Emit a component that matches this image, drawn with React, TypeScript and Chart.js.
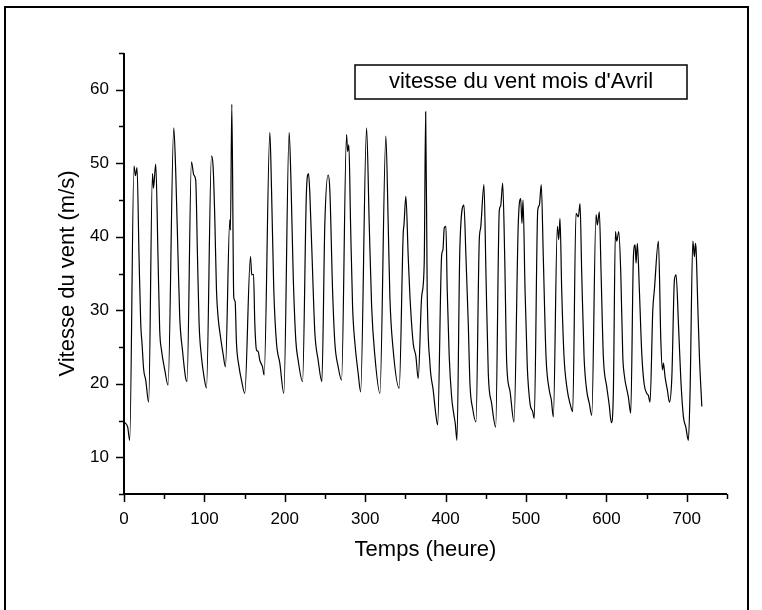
import React, { useEffect, useRef } from "react";
import { Chart, registerables } from "chart.js";

Chart.register(...registerables);

// Hours (x) and wind speed (y)
const hours: number[] = [
  0, 4.6, 7.1, 12.4, 14.2, 16.2, 18.7, 20.8, 22.4, 24.5, 27.0, 30.7,
  35.4, 36.6, 39.5, 42.3, 44.4, 46.6, 50.7, 54.8,
  61.9, 64.4, 67.2, 69.3, 72.7, 76.8, 78.4,
  83.9, 86.8, 89.2, 91.4, 93.4, 96.3, 99.6, 102.6,
  108.8, 110.8, 112.9, 115.0, 117.0, 120.0, 123.2, 126.2,
  131.6, 132.4, 134.1, 136.5, 138.2, 139.9, 143.1, 146.1, 150.2,
  157.3, 158.9, 161.1, 162.7, 164.8, 166.8, 168.9, 172.3, 174.3,
  181.4, 183.5, 186.3, 189.7, 193.8, 198.8,
  205.4, 207.9, 210.4, 213.7, 216.6, 222.1,
  227.0, 229.5, 231.1, 235.3, 237.4, 241.5, 246.1,
  249.8, 253.9, 256.0, 259.4, 262.3, 266.4, 270.6,
  276.8, 278.1, 279.7, 281.8, 284.3, 287.2, 291.3, 294.3,
  301.7, 305.0, 308.0, 312.1, 318.3,
  325.7, 328.6, 330.7, 334.8, 342.3,
  347.3, 348.2, 350.6, 353.5, 355.6, 359.7, 363.1, 365.9,
  370.2, 373.4, 375.2, 377.1, 380.5, 384.6, 388.0, 390.1,
  395.1, 396.7, 398.3, 400.4, 402.0, 404.5, 407.5, 410.4, 412.0, 414.1,
  417.8, 422.8, 425.3, 428.2, 430.3, 433.7, 437.8,
  441.9, 443.6, 447.7, 450.2, 453.1, 457.3, 462.3,
  466.8, 468.5, 471.0, 473.5, 476.0, 480.1, 485.1,
  490.4, 493.4, 495.0, 496.3, 498.8, 501.6, 505.0, 508.3, 510.3,
  514.6, 516.6, 519.0, 521.5, 524.9, 529.0, 531.5, 534.0,
  539.0, 540.7, 542.3, 544.4, 547.3, 551.4, 554.8, 558.1,
  562.2, 565.1, 567.2, 569.3, 572.2, 575.5, 578.8, 581.8,
  587.1, 588.7, 591.2, 593.4, 596.2, 600.4, 603.3, 606.2,
  608.7, 611.2, 612.9, 615.4, 617.9, 620.4, 622.0, 627.3, 630.3,
  633.6, 635.7, 636.9, 638.5, 641.0, 644.0, 646.9, 650.2, 652.2, 654.3,
  657.7, 659.7, 664.7, 667.7, 669.7, 670.9, 673.0, 675.9, 678.4,
  681.4, 684.6, 686.7, 689.6, 692.6, 695.8, 698.8, 702.0,
  704.1, 707.5, 709.5, 710.7, 711.6, 713.7, 715.7, 718.7,
];

const windSpeed: number[] = [
  14.8, 14.1, 12.3, 49.6, 48.3, 49.4, 37.3, 28.2, 25.5, 21.9, 20.5, 17.5,
  48.6, 46.6, 49.9, 37.3, 27.3, 24.6, 21.9, 19.8,
  54.8, 48.6, 37.3, 29.1, 24.6, 20.7, 20.3,
  50.2, 48.4, 47.7, 37.3, 28.2, 23.7, 20.9, 19.4,
  51.0, 49.6, 42.7, 32.8, 29.1, 26.4, 24.1, 22.3,
  42.3, 40.9, 58.0, 31.8, 31.2, 25.5, 22.3, 20.5, 18.7,
  37.3, 34.8, 34.9, 28.2, 24.6, 24.4, 23.2, 22.3, 21.2,
  54.2, 46.4, 32.8, 25.5, 22.8, 18.7,
  54.2, 46.6, 35.0, 25.9, 23.2, 20.3,
  46.4, 48.6, 46.0, 32.8, 26.9, 23.2, 20.3,
  41.8, 48.4, 46.4, 32.8, 25.5, 22.3, 20.5,
  53.9, 51.6, 52.5, 41.8, 30.5, 25.5, 21.4, 18.9,
  54.8, 41.8, 30.5, 23.7, 18.7,
  53.7, 41.8, 31.8, 24.6, 19.4,
  40.5, 41.6, 45.5, 37.3, 32.0, 25.5, 23.7, 20.7,
  31.8, 36.4, 57.0, 32.8, 22.8, 19.1, 15.7, 14.4,
  37.5, 38.2, 41.2, 41.4, 32.8, 23.7, 18.2, 15.7, 14.6, 12.3,
  38.7, 44.3, 37.3, 28.2, 20.0, 16.6, 14.8,
  39.6, 41.2, 47.1, 35.0, 21.4, 17.3, 14.1,
  43.6, 44.2, 47.3, 37.3, 22.8, 19.0, 14.8,
  41.8, 45.2, 41.8, 45.0, 32.8, 22.3, 17.3, 16.2, 15.3,
  43.6, 44.3, 47.1, 37.3, 23.7, 19.1, 17.8, 15.5,
  41.4, 39.6, 42.5, 32.8, 23.7, 19.1, 17.3, 16.2,
  43.2, 42.7, 44.5, 35.0, 23.7, 19.1, 17.3, 15.7,
  43.0, 41.6, 43.4, 35.0, 23.7, 19.6, 17.3, 14.7,
  19.1, 40.7, 39.4, 40.7, 35.0, 23.7, 21.4, 18.2, 16.0,
  37.3, 38.9, 36.4, 39.1, 32.8, 24.1, 20.0, 18.7, 18.4, 17.5,
  30.0, 32.8, 39.4, 25.9, 21.9, 22.8, 20.9, 19.1, 17.5,
  20.9, 34.1, 34.8, 28.2, 20.5, 15.5, 14.1, 12.3,
  19.1, 39.4, 37.3, 39.1, 38.2, 30.5, 23.7, 16.9,
];

const xTickLabels: number[] = [0, 100, 200, 300, 400, 500, 600, 700];
const yTickLabels: number[] = [10, 20, 30, 40, 50, 60];
const seriesLabel = "vitesse du vent mois d'Avril";
const xTitle = "Temps (heure)";
const yTitle = "Vitesse du vent (m/s)";

const FONT = "'Liberation Sans', Arial, Helvetica, sans-serif";

const decorPlugin = {
  id: "decor",
  afterDraw(chart: any) {
    const { ctx, chartArea, scales } = chart;
    const xs = scales.x;
    const ys = scales.y;
    const { left, right, top, bottom } = chartArea;
    ctx.save();
    ctx.strokeStyle = "#000";
    ctx.fillStyle = "#000";
    // outer frame (bottom edge not visible)
    ctx.lineWidth = 2;
    ctx.beginPath();
    ctx.moveTo(5, 615);
    ctx.lineTo(5, 7);
    ctx.lineTo(748, 7);
    ctx.lineTo(748, 615);
    ctx.stroke();
    // axes lines
    ctx.lineWidth = 2;
    ctx.beginPath();
    ctx.moveTo(left, top);
    ctx.lineTo(left, bottom);
    ctx.lineTo(right, bottom);
    ctx.stroke();
    // ticks
    ctx.lineWidth = 1.5;
    ctx.beginPath();
    xs.ticks.forEach((t: any) => {
      const px = Math.round(xs.getPixelForValue(t.value)) + 0.5;
      const len = xTickLabels.includes(t.value) ? 8 : 5;
      ctx.moveTo(px, bottom);
      ctx.lineTo(px, bottom + len);
    });
    ys.ticks.forEach((t: any) => {
      const py = Math.round(ys.getPixelForValue(t.value)) + 0.5;
      const len = yTickLabels.includes(t.value) ? 8 : 5;
      ctx.moveTo(left, py);
      ctx.lineTo(left - len, py);
    });
    ctx.stroke();
    // legend box
    ctx.lineWidth = 1.5;
    ctx.strokeRect(355, 65, 332, 34);
    ctx.font = `22px ${FONT}`;
    ctx.textAlign = "center";
    ctx.textBaseline = "middle";
    ctx.fillText(seriesLabel, 521, 82);
    ctx.restore();
  },
};

export default function App() {
  const canvasRef = useRef<HTMLCanvasElement | null>(null);

  useEffect(() => {
    if (!canvasRef.current) return;
    const points = hours.map((h, i) => ({ x: h, y: windSpeed[i] }));
    const chart = new Chart(canvasRef.current, {
      type: "line",
      data: {
        datasets: [
          {
            label: seriesLabel,
            data: points,
            borderColor: "#000",
            borderWidth: 1.2,
            pointRadius: 0,
            cubicInterpolationMode: "monotone",
            fill: false,
          },
        ],
      },
      options: {
        animation: false,
        responsive: false,
        layout: { padding: { left: 0, top: 53, right: 35, bottom: 36 } },
        plugins: { legend: { display: false }, tooltip: { enabled: false } },
        scales: {
          x: {
            type: "linear",
            min: 0,
            max: 750,
            afterFit: (s: any) => {
              s.height = 80;
            },
            grid: { display: false },
            border: { display: false },
            ticks: {
              stepSize: 50,
              autoSkip: false,
              maxRotation: 0,
              padding: 7,
              color: "#000",
              font: { family: FONT, size: 17 },
              callback: (v: any) => (xTickLabels.includes(Number(v)) ? String(v) : ""),
            },
            title: {
              display: true,
              text: xTitle,
              color: "#000",
              font: { family: FONT, size: 22 },
              padding: { top: 0, bottom: 11 },
            },
          },
          y: {
            type: "linear",
            min: 5,
            max: 65,
            afterFit: (s: any) => {
              s.width = 124;
            },
            grid: { display: false },
            border: { display: false },
            ticks: {
              stepSize: 5,
              autoSkip: false,
              padding: 7,
              color: "#000",
              font: { family: FONT, size: 17 },
              callback: (v: any) => (yTickLabels.includes(Number(v)) ? String(v) : ""),
            },
            title: {
              display: true,
              text: yTitle,
              color: "#000",
              font: { family: FONT, size: 22 },
              padding: { top: 55, bottom: 0 },
            },
          },
        },
      },
      plugins: [decorPlugin],
    });
    return () => chart.destroy();
  }, []);

  return (
    <div
      style={{
        position: "fixed",
        left: 0,
        top: 0,
        width: 762,
        height: 610,
        overflow: "hidden",
        background: "#fff",
      }}
    >
      <canvas ref={canvasRef} width={762} height={610} style={{ display: "block" }} />
    </div>
  );
}
